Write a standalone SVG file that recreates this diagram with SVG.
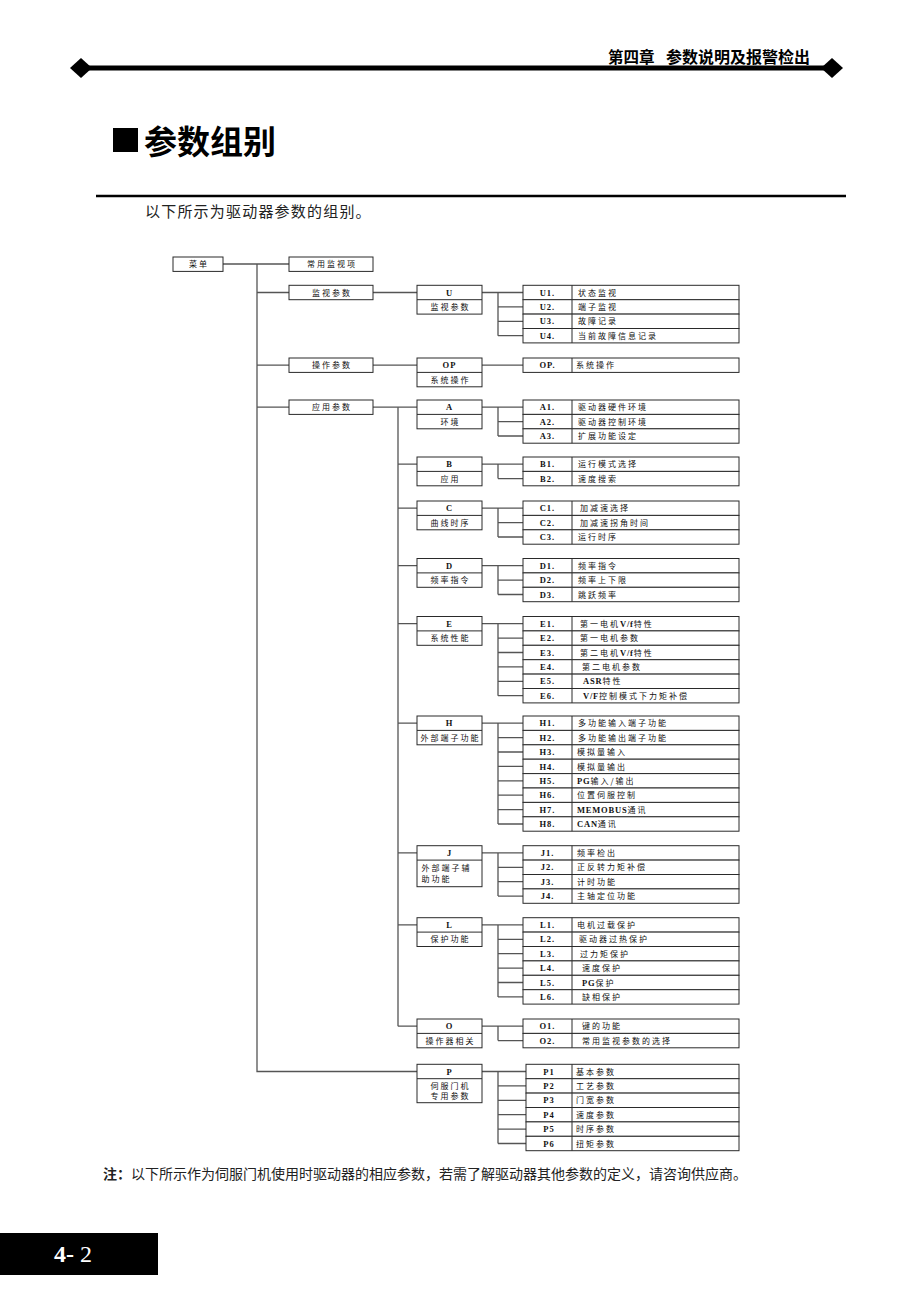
<svg xmlns="http://www.w3.org/2000/svg" width="920" height="1302" viewBox="0 0 920 1302">
<style>
.bx{fill:#fff;stroke:#2a2a2a;stroke-width:1}
.dv{stroke:#2a2a2a;stroke-width:1}
.ln{stroke:#555;stroke-width:1.3;fill:none}
.k{font-family:"Liberation Serif",serif;font-weight:bold;font-size:8.5px;text-anchor:middle;letter-spacing:1px;fill:#111}
.t{font-family:"Noto Sans CJK SC",sans-serif;font-size:8px;letter-spacing:2px;fill:#111}
.tc{font-family:"Noto Sans CJK SC",sans-serif;font-size:8px;letter-spacing:2px;fill:#111;text-anchor:middle}
.lt{font-family:"Liberation Serif",serif;font-weight:bold;font-size:8.5px;letter-spacing:0.8px;fill:#111}
</style>
<rect width="920" height="1302" fill="#fff"/>
<g id="header">
<line x1="81" y1="68" x2="832" y2="68" stroke="#000" stroke-width="5"/>
<polygon points="70,68 81,58 92,68 81,78" fill="#000"/>
<polygon points="821,68 832,58 843,68 832,78" fill="#000"/>
<text x="608" y="63" font-family="Noto Sans CJK SC, sans-serif" font-weight="bold" font-size="15.5">第四章</text>
<text x="810" y="63" font-family="Noto Sans CJK SC, sans-serif" font-weight="bold" font-size="16" text-anchor="end">参数说明及报警检出</text>
</g>
<g id="title">
<rect x="113" y="128" width="25" height="24" fill="#000"/>
<text x="144" y="154" font-family="Noto Sans CJK SC, sans-serif" font-weight="bold" font-size="33">参数组别</text>
<line x1="96" y1="196" x2="846" y2="196" stroke="#000" stroke-width="2.5"/>
<text x="145" y="217" font-family="Noto Sans CJK SC, sans-serif" font-size="15" letter-spacing="1.2" fill="#222">以下所示为驱动器参数的组别。</text>
</g>
<g id="connectors">
<path class="ln" d="M223 264H289M257 264V1071.5H417M257 292.5H289M257 365.2H289M257 407.2H289"/>
<path class="ln" d="M373 292.5H417M373 365.2H417M373 407.2H417"/>
<path class="ln" d="M398 407.2V1026.2M398 464.2H417M398 508.2H417M398 565.7H417M398 623.7H417M398 723.2H417M398 852.9H417M398 924.9H417M398 1026.2H417"/>
<path class="ln" d="M482 292.5H523M498 292.5V335.7M498 306.9H523M498 321.3H523M498 335.7H523"/>
<path class="ln" d="M482 365.2H523"/>
<path class="ln" d="M482 407.2H523M498 407.2V436M498 421.6H523M498 436H523"/>
<path class="ln" d="M482 464.2H523M498 464.2V478.6M498 478.6H523"/>
<path class="ln" d="M482 508.2H523M498 508.2V537M498 522.6H523M498 537H523"/>
<path class="ln" d="M482 565.7H523M498 565.7V594.5M498 580.1H523M498 594.5H523"/>
<path class="ln" d="M482 623.7H523M498 623.7V695.7M498 638.1H523M498 652.5H523M498 666.9H523M498 681.3H523M498 695.7H523"/>
<path class="ln" d="M482 723.2H523M498 723.2V824M498 737.6H523M498 752H523M498 766.4H523M498 780.8H523M498 795.2H523M498 809.6H523M498 824H523"/>
<path class="ln" d="M482 852.9H523M498 852.9V896.1M498 867.3H523M498 881.7H523M498 896.1H523"/>
<path class="ln" d="M482 924.9H523M498 924.9V996.9M498 939.3H523M498 953.7H523M498 968.1H523M498 982.5H523M498 996.9H523"/>
<path class="ln" d="M482 1026.2H523M498 1026.2V1040.6M498 1040.6H523"/>
<path class="ln" d="M482 1071.5H526M498 1071.5V1143.5M498 1085.9H526M498 1100.3H526M498 1114.7H526M498 1129.1H526M498 1143.5H526"/>
</g>
<g id="menu"><rect class="bx" x="173" y="257" width="50" height="14.4"/><text class="tc" x="199" y="267.3">菜单</text></g>
<g id="n-common"><rect class="bx" x="289" y="257" width="84" height="14.4"/><text class="tc" x="332" y="267.3">常用监视项</text></g>
<g id="n-monitor"><rect class="bx" x="289" y="285.3" width="84" height="14.4"/><text class="tc" x="332" y="295.6">监视参数</text></g>
<g id="n-operate"><rect class="bx" x="289" y="358" width="84" height="14.4"/><text class="tc" x="332" y="368.3">操作参数</text></g>
<g id="n-apply"><rect class="bx" x="289" y="400" width="84" height="14.4"/><text class="tc" x="332" y="410.3">应用参数</text></g>

<g id="p-U"><rect class="bx" x="417" y="285.3" width="65" height="28.8"/><line class="dv" x1="417" y1="299.7" x2="482" y2="299.7"/><text class="k" x="449.5" y="295.6">U</text><text class="tc" x="450.5" y="310">监视参数</text></g>
<g id="p-OP"><rect class="bx" x="417" y="358" width="65" height="28.8"/><line class="dv" x1="417" y1="372.4" x2="482" y2="372.4"/><text class="k" x="449.5" y="368.3">OP</text><text class="tc" x="450.5" y="382.7">系统操作</text></g>
<g id="p-A"><rect class="bx" x="417" y="400" width="65" height="28.8"/><line class="dv" x1="417" y1="414.4" x2="482" y2="414.4"/><text class="k" x="449.5" y="410.3">A</text><text class="tc" x="450.5" y="424.7">环境</text></g>
<g id="p-B"><rect class="bx" x="417" y="457" width="65" height="28.8"/><line class="dv" x1="417" y1="471.4" x2="482" y2="471.4"/><text class="k" x="449.5" y="467.3">B</text><text class="tc" x="450.5" y="481.7">应用</text></g>
<g id="p-C"><rect class="bx" x="417" y="501" width="65" height="28.8"/><line class="dv" x1="417" y1="515.4" x2="482" y2="515.4"/><text class="k" x="449.5" y="511.3">C</text><text class="tc" x="450.5" y="525.7">曲线时序</text></g>
<g id="p-D"><rect class="bx" x="417" y="558.5" width="65" height="28.8"/><line class="dv" x1="417" y1="572.9" x2="482" y2="572.9"/><text class="k" x="449.5" y="568.8">D</text><text class="tc" x="450.5" y="583.2">频率指令</text></g>
<g id="p-E"><rect class="bx" x="417" y="616.5" width="65" height="28.8"/><line class="dv" x1="417" y1="630.9" x2="482" y2="630.9"/><text class="k" x="449.5" y="626.8">E</text><text class="tc" x="450.5" y="641.2">系统性能</text></g>
<g id="p-H"><rect class="bx" x="417" y="716" width="65" height="28.8"/><line class="dv" x1="417" y1="730.4" x2="482" y2="730.4"/><text class="k" x="449.5" y="726.3">H</text><text class="tc" x="450.5" y="740.7">外部端子功能</text></g>
<g id="p-J"><rect class="bx" x="417" y="845.7" width="65" height="41"/><line class="dv" x1="417" y1="860.1" x2="482" y2="860.1"/><text class="k" x="449.5" y="856">J</text><text class="t" x="421.5" y="871.3">外部端子辅</text><text class="t" x="421.5" y="882">助功能</text></g>
<g id="p-L"><rect class="bx" x="417" y="917.7" width="65" height="28.8"/><line class="dv" x1="417" y1="932.1" x2="482" y2="932.1"/><text class="k" x="449.5" y="928">L</text><text class="tc" x="450.5" y="942.4">保护功能</text></g>
<g id="p-O"><rect class="bx" x="417" y="1019" width="65" height="28.8"/><line class="dv" x1="417" y1="1033.4" x2="482" y2="1033.4"/><text class="k" x="449.5" y="1029.3">O</text><text class="tc" x="450.5" y="1043.7">操作器相关</text></g>
<g id="p-P"><rect class="bx" x="417" y="1064.3" width="65" height="38.4"/><line class="dv" x1="417" y1="1078.7" x2="482" y2="1078.7"/><text class="k" x="449.5" y="1074.6">P</text><text class="tc" x="450.5" y="1088.5">伺服门机</text><text class="tc" x="450.5" y="1099">专用参数</text></g>

<g id="c-U1"><rect class="bx" x="523" y="285.3" width="216" height="14.4"/><line class="dv" x1="572" y1="285.3" x2="572" y2="299.7"/><text class="k" x="547.5" y="295.6">U1.</text><text class="t" x="578" y="295.6">状态监视</text></g>
<g id="c-U2"><rect class="bx" x="523" y="299.7" width="216" height="14.4"/><line class="dv" x1="572" y1="299.7" x2="572" y2="314.1"/><text class="k" x="547.5" y="310">U2.</text><text class="t" x="578" y="310">端子监视</text></g>
<g id="c-U3"><rect class="bx" x="523" y="314.1" width="216" height="14.4"/><line class="dv" x1="572" y1="314.1" x2="572" y2="328.5"/><text class="k" x="547.5" y="324.4">U3.</text><text class="t" x="578" y="324.4">故障记录</text></g>
<g id="c-U4"><rect class="bx" x="523" y="328.5" width="216" height="14.4"/><line class="dv" x1="572" y1="328.5" x2="572" y2="342.9"/><text class="k" x="547.5" y="338.8">U4.</text><text class="t" x="578" y="338.8">当前故障信息记录</text></g>

<g id="c-OP"><rect class="bx" x="523" y="358" width="216" height="14.4"/><line class="dv" x1="572" y1="358" x2="572" y2="372.4"/><text class="k" x="547.5" y="368.3">OP.</text><text class="t" x="576" y="368.3">系统操作</text></g>

<g id="c-A1"><rect class="bx" x="523" y="400" width="216" height="14.4"/><line class="dv" x1="572" y1="400" x2="572" y2="414.4"/><text class="k" x="547.5" y="410.3">A1.</text><text class="t" x="578" y="410.3">驱动器硬件环境</text></g>
<g id="c-A2"><rect class="bx" x="523" y="414.4" width="216" height="14.4"/><line class="dv" x1="572" y1="414.4" x2="572" y2="428.8"/><text class="k" x="547.5" y="424.7">A2.</text><text class="t" x="578" y="424.7">驱动器控制环境</text></g>
<g id="c-A3"><rect class="bx" x="523" y="428.8" width="216" height="14.4"/><line class="dv" x1="572" y1="428.8" x2="572" y2="443.2"/><text class="k" x="547.5" y="439.1">A3.</text><text class="t" x="578" y="439.1">扩展功能设定</text></g>

<g id="c-B1"><rect class="bx" x="523" y="457" width="216" height="14.4"/><line class="dv" x1="572" y1="457" x2="572" y2="471.4"/><text class="k" x="547.5" y="467.3">B1.</text><text class="t" x="578" y="467.3">运行模式选择</text></g>
<g id="c-B2"><rect class="bx" x="523" y="471.4" width="216" height="14.4"/><line class="dv" x1="572" y1="471.4" x2="572" y2="485.8"/><text class="k" x="547.5" y="481.7">B2.</text><text class="t" x="578" y="481.7">速度搜索</text></g>

<g id="c-C1"><rect class="bx" x="523" y="501" width="216" height="14.4"/><line class="dv" x1="572" y1="501" x2="572" y2="515.4"/><text class="k" x="547.5" y="511.3">C1.</text><text class="t" x="580" y="511.3">加减速选择</text></g>
<g id="c-C2"><rect class="bx" x="523" y="515.4" width="216" height="14.4"/><line class="dv" x1="572" y1="515.4" x2="572" y2="529.8"/><text class="k" x="547.5" y="525.7">C2.</text><text class="t" x="580" y="525.7">加减速拐角时间</text></g>
<g id="c-C3"><rect class="bx" x="523" y="529.8" width="216" height="14.4"/><line class="dv" x1="572" y1="529.8" x2="572" y2="544.2"/><text class="k" x="547.5" y="540.1">C3.</text><text class="t" x="578" y="540.1">运行时序</text></g>

<g id="c-D1"><rect class="bx" x="523" y="558.5" width="216" height="14.4"/><line class="dv" x1="572" y1="558.5" x2="572" y2="572.9"/><text class="k" x="547.5" y="568.8">D1.</text><text class="t" x="578" y="568.8">频率指令</text></g>
<g id="c-D2"><rect class="bx" x="523" y="572.9" width="216" height="14.4"/><line class="dv" x1="572" y1="572.9" x2="572" y2="587.3"/><text class="k" x="547.5" y="583.2">D2.</text><text class="t" x="578" y="583.2">频率上下限</text></g>
<g id="c-D3"><rect class="bx" x="523" y="587.3" width="216" height="14.4"/><line class="dv" x1="572" y1="587.3" x2="572" y2="601.7"/><text class="k" x="547.5" y="597.6">D3.</text><text class="t" x="578" y="597.6">跳跃频率</text></g>

<g id="c-E1"><rect class="bx" x="523" y="616.5" width="216" height="14.4"/><line class="dv" x1="572" y1="616.5" x2="572" y2="630.9"/><text class="k" x="547.5" y="626.8">E1.</text><text class="t" x="580" y="626.8">第一电机<tspan class="lt">V/f</tspan>特性</text></g>
<g id="c-E2"><rect class="bx" x="523" y="630.9" width="216" height="14.4"/><line class="dv" x1="572" y1="630.9" x2="572" y2="645.3"/><text class="k" x="547.5" y="641.2">E2.</text><text class="t" x="580" y="641.2">第一电机参数</text></g>
<g id="c-E3"><rect class="bx" x="523" y="645.3" width="216" height="14.4"/><line class="dv" x1="572" y1="645.3" x2="572" y2="659.7"/><text class="k" x="547.5" y="655.6">E3.</text><text class="t" x="580" y="655.6">第二电机<tspan class="lt">V/f</tspan>特性</text></g>
<g id="c-E4"><rect class="bx" x="523" y="659.7" width="216" height="14.4"/><line class="dv" x1="572" y1="659.7" x2="572" y2="674.1"/><text class="k" x="547.5" y="670">E4.</text><text class="t" x="582" y="670">第二电机参数</text></g>
<g id="c-E5"><rect class="bx" x="523" y="674.1" width="216" height="14.4"/><line class="dv" x1="572" y1="674.1" x2="572" y2="688.5"/><text class="k" x="547.5" y="684.4">E5.</text><text class="t" x="583" y="684.4"><tspan class="lt">ASR</tspan>特性</text></g>
<g id="c-E6"><rect class="bx" x="523" y="688.5" width="216" height="14.4"/><line class="dv" x1="572" y1="688.5" x2="572" y2="702.9"/><text class="k" x="547.5" y="698.8">E6.</text><text class="t" x="583" y="698.8"><tspan class="lt">V/F</tspan>控制模式下力矩补偿</text></g>

<g id="c-H1"><rect class="bx" x="523" y="716" width="216" height="14.4"/><line class="dv" x1="572" y1="716" x2="572" y2="730.4"/><text class="k" x="547.5" y="726.3">H1.</text><text class="t" x="578" y="726.3">多功能输入端子功能</text></g>
<g id="c-H2"><rect class="bx" x="523" y="730.4" width="216" height="14.4"/><line class="dv" x1="572" y1="730.4" x2="572" y2="744.8"/><text class="k" x="547.5" y="740.7">H2.</text><text class="t" x="578" y="740.7">多功能输出端子功能</text></g>
<g id="c-H3"><rect class="bx" x="523" y="744.8" width="216" height="14.4"/><line class="dv" x1="572" y1="744.8" x2="572" y2="759.2"/><text class="k" x="547.5" y="755.1">H3.</text><text class="t" x="577" y="755.1">模拟量输入</text></g>
<g id="c-H4"><rect class="bx" x="523" y="759.2" width="216" height="14.4"/><line class="dv" x1="572" y1="759.2" x2="572" y2="773.6"/><text class="k" x="547.5" y="769.5">H4.</text><text class="t" x="577" y="769.5">模拟量输出</text></g>
<g id="c-H5"><rect class="bx" x="523" y="773.6" width="216" height="14.4"/><line class="dv" x1="572" y1="773.6" x2="572" y2="788"/><text class="k" x="547.5" y="783.9">H5.</text><text class="t" x="577" y="783.9"><tspan class="lt">PG</tspan>输入/输出</text></g>
<g id="c-H6"><rect class="bx" x="523" y="788" width="216" height="14.4"/><line class="dv" x1="572" y1="788" x2="572" y2="802.4"/><text class="k" x="547.5" y="798.3">H6.</text><text class="t" x="577" y="798.3">位置伺服控制</text></g>
<g id="c-H7"><rect class="bx" x="523" y="802.4" width="216" height="14.4"/><line class="dv" x1="572" y1="802.4" x2="572" y2="816.8"/><text class="k" x="547.5" y="812.7">H7.</text><text class="t" x="577" y="812.7"><tspan class="lt" letter-spacing="1.5">MEMOBUS</tspan>通讯</text></g>
<g id="c-H8"><rect class="bx" x="523" y="816.8" width="216" height="14.4"/><line class="dv" x1="572" y1="816.8" x2="572" y2="831.2"/><text class="k" x="547.5" y="827.1">H8.</text><text class="t" x="577" y="827.1"><tspan class="lt" letter-spacing="1">CAN</tspan>通讯</text></g>

<g id="c-J1"><rect class="bx" x="523" y="845.7" width="216" height="14.4"/><line class="dv" x1="572" y1="845.7" x2="572" y2="860.1"/><text class="k" x="547.5" y="856">J1.</text><text class="t" x="577" y="856">频率检出</text></g>
<g id="c-J2"><rect class="bx" x="523" y="860.1" width="216" height="14.4"/><line class="dv" x1="572" y1="860.1" x2="572" y2="874.5"/><text class="k" x="547.5" y="870.4">J2.</text><text class="t" x="577" y="870.4">正反转力矩补偿</text></g>
<g id="c-J3"><rect class="bx" x="523" y="874.5" width="216" height="14.4"/><line class="dv" x1="572" y1="874.5" x2="572" y2="888.9"/><text class="k" x="547.5" y="884.8">J3.</text><text class="t" x="577" y="884.8">计时功能</text></g>
<g id="c-J4"><rect class="bx" x="523" y="888.9" width="216" height="14.4"/><line class="dv" x1="572" y1="888.9" x2="572" y2="903.3"/><text class="k" x="547.5" y="899.2">J4.</text><text class="t" x="577" y="899.2">主轴定位功能</text></g>

<g id="c-L1"><rect class="bx" x="523" y="917.7" width="216" height="14.4"/><line class="dv" x1="572" y1="917.7" x2="572" y2="932.1"/><text class="k" x="547.5" y="928">L1.</text><text class="t" x="577" y="928">电机过载保护</text></g>
<g id="c-L2"><rect class="bx" x="523" y="932.1" width="216" height="14.4"/><line class="dv" x1="572" y1="932.1" x2="572" y2="946.5"/><text class="k" x="547.5" y="942.4">L2.</text><text class="t" x="579" y="942.4">驱动器过热保护</text></g>
<g id="c-L3"><rect class="bx" x="523" y="946.5" width="216" height="14.4"/><line class="dv" x1="572" y1="946.5" x2="572" y2="960.9"/><text class="k" x="547.5" y="956.8">L3.</text><text class="t" x="580" y="956.8">过力矩保护</text></g>
<g id="c-L4"><rect class="bx" x="523" y="960.9" width="216" height="14.4"/><line class="dv" x1="572" y1="960.9" x2="572" y2="975.3"/><text class="k" x="547.5" y="971.2">L4.</text><text class="t" x="582" y="971.2">速度保护</text></g>
<g id="c-L5"><rect class="bx" x="523" y="975.3" width="216" height="14.4"/><line class="dv" x1="572" y1="975.3" x2="572" y2="989.7"/><text class="k" x="547.5" y="985.6">L5.</text><text class="t" x="582" y="985.6"><tspan class="lt">PG</tspan>保护</text></g>
<g id="c-L6"><rect class="bx" x="523" y="989.7" width="216" height="14.4"/><line class="dv" x1="572" y1="989.7" x2="572" y2="1004.1"/><text class="k" x="547.5" y="1000">L6.</text><text class="t" x="582" y="1000">缺相保护</text></g>

<g id="c-O1"><rect class="bx" x="523" y="1019" width="216" height="14.4"/><line class="dv" x1="572" y1="1019" x2="572" y2="1033.4"/><text class="k" x="547.5" y="1029.3">O1.</text><text class="t" x="582" y="1029.3">键的功能</text></g>
<g id="c-O2"><rect class="bx" x="523" y="1033.4" width="216" height="14.4"/><line class="dv" x1="572" y1="1033.4" x2="572" y2="1047.8"/><text class="k" x="547.5" y="1043.7">O2.</text><text class="t" x="582" y="1043.7">常用监视参数的选择</text></g>

<g id="c-P1"><rect class="bx" x="526" y="1064.3" width="213" height="14.4"/><line class="dv" x1="572" y1="1064.3" x2="572" y2="1078.7"/><text class="k" x="549" y="1074.6">P1</text><text class="t" x="576" y="1074.6">基本参数</text></g>
<g id="c-P2"><rect class="bx" x="526" y="1078.7" width="213" height="14.4"/><line class="dv" x1="572" y1="1078.7" x2="572" y2="1093.1"/><text class="k" x="549" y="1089">P2</text><text class="t" x="576" y="1089">工艺参数</text></g>
<g id="c-P3"><rect class="bx" x="526" y="1093.1" width="213" height="14.4"/><line class="dv" x1="572" y1="1093.1" x2="572" y2="1107.5"/><text class="k" x="549" y="1103.4">P3</text><text class="t" x="576" y="1103.4">门宽参数</text></g>
<g id="c-P4"><rect class="bx" x="526" y="1107.5" width="213" height="14.4"/><line class="dv" x1="572" y1="1107.5" x2="572" y2="1121.9"/><text class="k" x="549" y="1117.8">P4</text><text class="t" x="576" y="1117.8">速度参数</text></g>
<g id="c-P5"><rect class="bx" x="526" y="1121.9" width="213" height="14.4"/><line class="dv" x1="572" y1="1121.9" x2="572" y2="1136.3"/><text class="k" x="549" y="1132.2">P5</text><text class="t" x="576" y="1132.2">时序参数</text></g>
<g id="c-P6"><rect class="bx" x="526" y="1136.3" width="213" height="14.4"/><line class="dv" x1="572" y1="1136.3" x2="572" y2="1150.7"/><text class="k" x="549" y="1146.6">P6</text><text class="t" x="576" y="1146.6">扭矩参数</text></g>

<g id="note">
<text x="103" y="1179" font-family="Noto Sans CJK SC, sans-serif" font-size="14" fill="#222"><tspan font-weight="bold">注：</tspan>以下所示作为伺服门机使用时驱动器的相应参数，若需了解驱动器其他参数的定义，请咨询供应商。</text>
</g>
<g id="footer">
<rect x="0" y="1233" width="158" height="42" fill="#000"/>
<text x="54" y="1262" font-family="Liberation Serif, serif" font-size="24" fill="#fff"><tspan font-weight="bold">4-</tspan> 2</text>
</g>
</svg>
